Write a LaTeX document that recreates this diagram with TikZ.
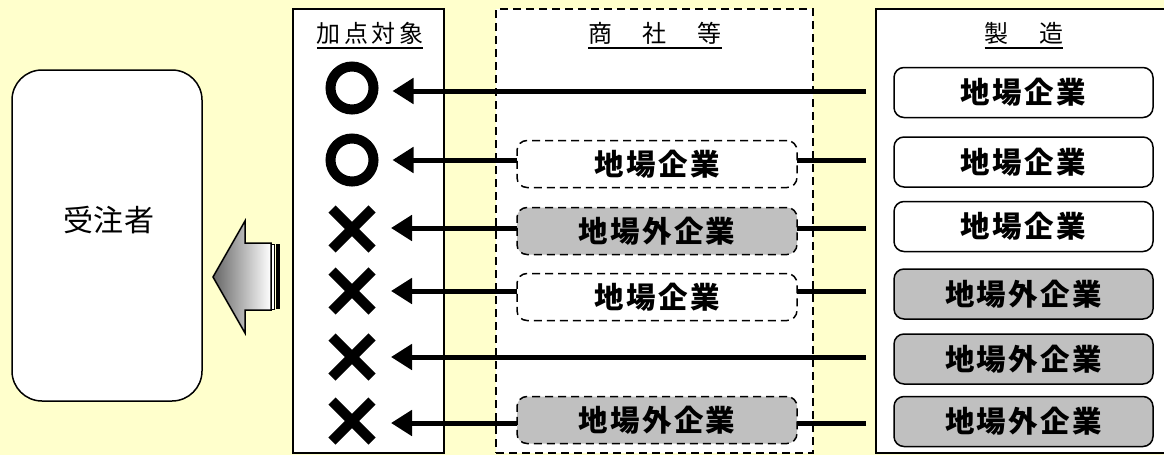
\documentclass[tikz,border=0pt]{standalone}
\usepackage{fontspec}
\setmainfont{Noto Sans CJK JP}
\newfontfamily\boxfont{Noto Sans CJK JP}[LetterSpace=8]
\newfontfamily\hdrfont{Noto Sans CJK JP}[LetterSpace=14]
\newfontfamily\ordfont{Noto Sans CJK JP}[LetterSpace=3]
\usetikzlibrary{arrows.meta,shapes.misc}
\definecolor{bgyellow}{HTML}{FFFFCC}
\definecolor{boxgray}{HTML}{C0C0C0}
\begin{document}
\begin{tikzpicture}[x=1pt,y=-1pt,
  every node/.style={inner sep=0pt, outer sep=0pt},
  frame/.style={draw=black, line width=1.5pt, fill=white, anchor=north west},
  hdr/.style={font=\hdrfont\fontsize{24}{24}\selectfont, anchor=base},
  uline/.style={line width=1.4pt},
  mbox/.style={draw=black, line width=1.5pt, rounded corners=10pt, minimum width=259pt, minimum height=50pt, fill=white, font=\boxfont\bfseries\fontsize{29.5}{29.5}\selectfont},
  tbox/.style={draw=black, line width=1.5pt, dash pattern=on 8pt off 5pt, rounded corners=10pt, minimum width=280pt, minimum height=47pt, fill=white, font=\boxfont\bfseries\fontsize{29.5}{29.5}\selectfont},
  outside/.style={fill=boxgray},
  okmark/.style={circle, draw=black, line width=10pt, minimum size=43pt},
  ngmark/.style={cross out, draw=black, line width=10pt, minimum size=40pt},
  link/.style={line width=5pt},
  conn/.style={line width=5pt, -{Triangle[length=21pt,width=25pt]}, shorten >=19pt},
]
\fill[bgyellow] (0,0) rectangle (1164,455);
\useasboundingbox (0,0) rectangle (1164,455);

% order recipient
\node[draw=black, line width=1.5pt, fill=white, rounded corners=30pt, minimum width=190pt, minimum height=331pt] (ord) at (107,235.5) {};
\node[font=\ordfont\fontsize{30}{30}\selectfont] (ordt) at (109,220) {受注者};

% big striped arrow
\path[draw=black, line width=1.5pt, left color=black!60, right color=white]
  (213,277) -- (245,221) -- (245,243) -- (271,243) -- (271,310) -- (245,310) -- (245,333) -- cycle;
\draw[line width=1pt, fill=white] (271,244) rectangle (274,309);
\fill[black] (276,244) rectangle (279.5,309);

% columns
\node[frame, minimum width=151pt, minimum height=444pt] (colA) at (293,9) {};
\node[frame, dash pattern=on 8pt off 5pt, minimum width=317pt, minimum height=444pt] (colB) at (496,9) {};
\node[frame, minimum width=300pt, minimum height=444pt] (colC) at (876,9) {};

% headers
\node[hdr] (h1) at (370,42) {加点対象};
\node[hdr] (h2) at (655,42) {商　社　等};
\node[hdr] (h3) at (1024,42) {製　造};
\draw[uline] ([yshift=-6pt]h1.base west) -- ([yshift=-6pt]h1.base east);
\draw[uline] ([yshift=-6pt]h2.base west) -- ([yshift=-6pt]h2.base east);
\draw[uline] ([yshift=-6pt]h3.base west) -- ([yshift=-6pt]h3.base east);

% manufacturers
\node[mbox] (m1) at (1023.5,92.5) {地場企業};
\node[mbox] (m2) at (1023.5,162) {地場企業};
\node[mbox] (m3) at (1023.5,226.5) {地場企業};
\node[mbox, outside] (m4) at (1023.5,294) {地場外企業};
\node[mbox, outside] (m5) at (1023.5,359) {地場外企業};
\node[mbox, outside] (m6) at (1023.5,421.5) {地場外企業};

% trading companies
\node[tbox] (b2) at (657,164) {地場企業};
\node[tbox, outside] (b3) at (657,231) {地場外企業};
\node[tbox] (b4) at (657,297) {地場企業};
\node[tbox, outside] (b6) at (657,420) {地場外企業};

% marks
\node[okmark] (s1) at (352,88) {};
\node[okmark] (s2) at (352,160) {};
\node[ngmark] (s3) at (352,229) {};
\node[ngmark] (s4) at (352,291) {};
\node[ngmark] (s5) at (352,357) {};
\node[ngmark] (s6) at (352,421) {};

% free ends of connectors
\coordinate (e1) at (866,91);
\coordinate (e2) at (866,160);
\coordinate (e3) at (866,228);
\coordinate (e4) at (866,291);
\coordinate (e5) at (866,357);
\coordinate (e6) at (866,423);

% connectors
\draw[conn] (e1) -- (e1 -| s1.east);
\draw[link] (e2) -- (e2 -| b2.east);
\draw[conn] (e2 -| b2.west) -- (e2 -| s2.east);
\draw[link] (e3) -- (e3 -| b3.east);
\draw[conn] (e3 -| b3.west) -- (e3 -| s3.east);
\draw[link] (e4) -- (e4 -| b4.east);
\draw[conn] (e4 -| b4.west) -- (e4 -| s4.east);
\draw[conn] (e5) -- (e5 -| s5.east);
\draw[link] (e6) -- (e6 -| b6.east);
\draw[conn] (e6 -| b6.west) -- (e6 -| s6.east);
\end{tikzpicture}
\end{document}
